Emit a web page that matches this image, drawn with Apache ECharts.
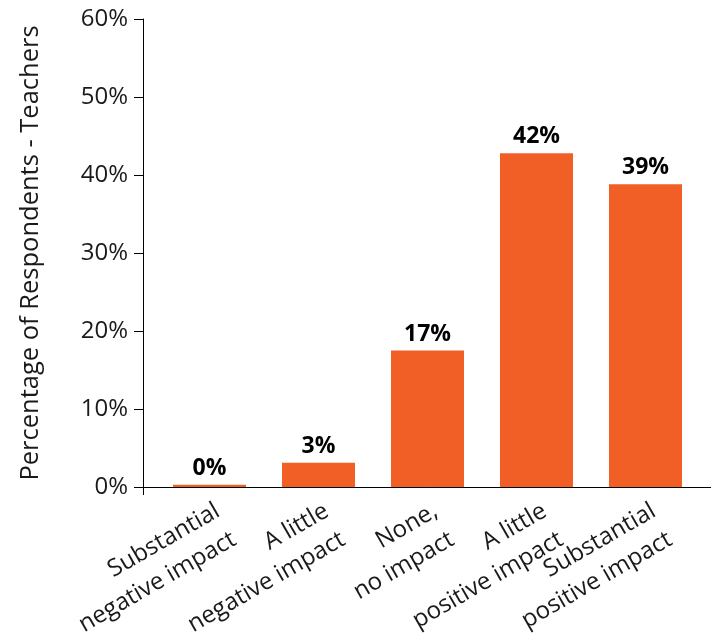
<!DOCTYPE html>
<html>
<head>
<meta charset="utf-8">
<script src="https://cdn.jsdelivr.net/npm/echarts@6/dist/echarts.min.js"></script>
<style>
html,body{margin:0;padding:0;background:#fff;}
#chart{width:711px;height:636px;}
</style>
</head>
<body>
<div id="chart"></div>
<script>
const categories = [
  'Substantial\nnegative impact',
  'A little\nnegative impact',
  'None,\nno impact',
  'A little\npositive impact',
  'Substantial\npositive impact'
];
const values = [0.3, 3.1, 17.5, 42.8, 38.8];
const valueLabels = ['0%', '3%', '17%', '42%', '39%'];
const yTicks = [0, 10, 20, 30, 40, 50, 60];
const yTitle = 'Percentage of Respondents - Teachers';

const FONT = '"Open Sans", "Noto Sans", sans-serif';
const TEXT = '#1a1a1a';
const BAR = '#F15F27';

const chart = echarts.init(document.getElementById('chart'), null, {renderer: 'canvas'});
chart.setOption({
  animation: false,
  backgroundColor: '#fff',
  textStyle: {fontFamily: FONT},
  grid: [
    {left: 155, right: 11, top: 19, bottom: 149, containLabel: false, outerBoundsMode: 'none'},
    {left: 143, right: 0, top: 19, bottom: 149, containLabel: false, outerBoundsMode: 'none'}
  ],
  xAxis: [
    {
      type: 'category',
      gridIndex: 0,
      data: categories,
      axisLine: {show: false},
      axisTick: {show: false},
      axisLabel: {
        interval: 0,
        rotate: 30,
        margin: 8,
        align: 'right',
        verticalAlign: 'top',
        color: TEXT,
        fontFamily: FONT,
        fontSize: 24,
        lineHeight: 33
      }
    },
    {
      type: 'value',
      gridIndex: 1,
      min: 0, max: 1,
      axisLine: {show: true, lineStyle: {color: '#000', width: 1}},
      axisTick: {show: true, customValues: [0], length: 8, lineStyle: {color: '#000', width: 1}},
      axisLabel: {show: false},
      splitLine: {show: false}
    }
  ],
  yAxis: [
    {
      type: 'value',
      gridIndex: 0,
      min: yTicks[0],
      max: yTicks[yTicks.length - 1],
      interval: 10,
      offset: 12,
      name: yTitle,
      nameLocation: 'middle',
      nameGap: 99,
      nameTextStyle: {fontSize: 25.5, color: TEXT, fontFamily: FONT},
      axisLine: {show: true, lineStyle: {color: '#000', width: 1}},
      axisTick: {show: true, inside: false, length: 9, lineStyle: {color: '#000', width: 1}},
      axisLabel: {formatter: '{value}%', fontSize: 24, color: TEXT, fontFamily: FONT, margin: 15},
      splitLine: {show: false}
    },
    {
      type: 'value',
      gridIndex: 1,
      show: false
    }
  ],
  series: [{
    type: 'bar',
    xAxisIndex: 0,
    yAxisIndex: 0,
    data: values,
    barWidth: 73,
    itemStyle: {color: BAR},
    label: {
      show: true,
      position: 'top',
      distance: 5,
      fontWeight: 'bold',
      fontSize: 23,
      color: '#000',
      fontFamily: FONT,
      formatter: function (p) { return valueLabels[p.dataIndex]; }
    }
  }]
});
</script>
</body>
</html>
